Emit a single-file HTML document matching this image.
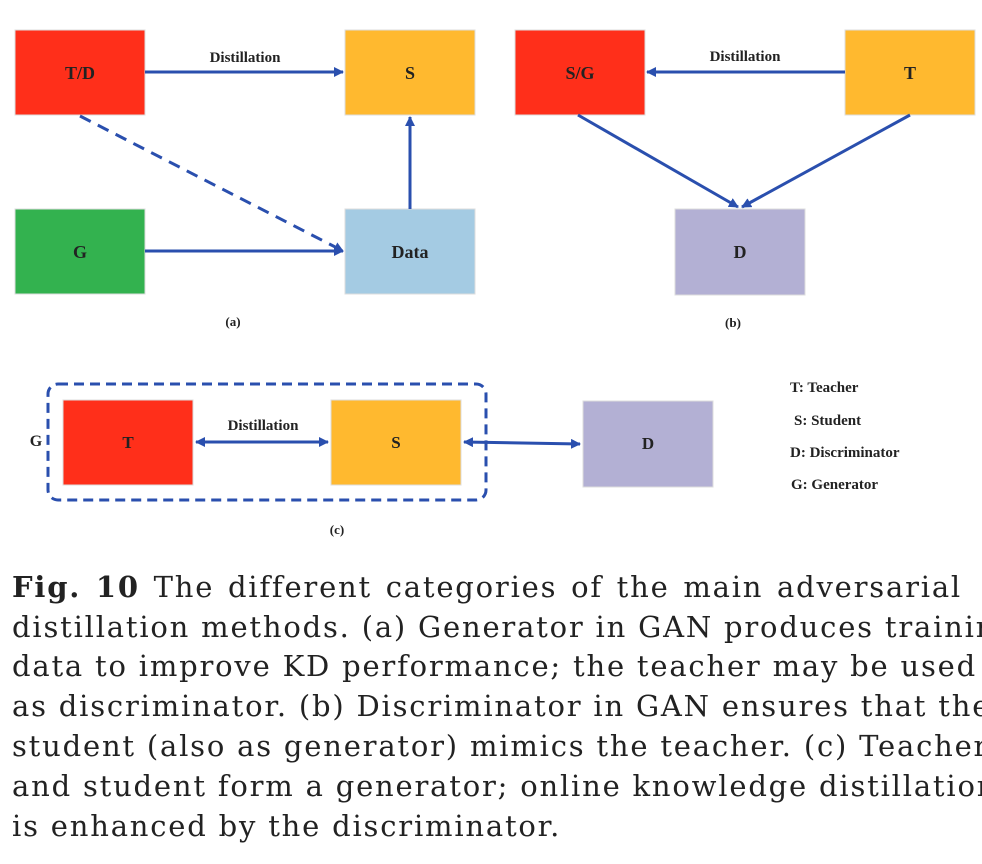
<!DOCTYPE html>
<html><head><meta charset="utf-8"><style>
body{margin:0;background:#fff;width:982px;height:864px;overflow:hidden;position:relative}
svg{position:absolute;left:0;top:0}
.cap{position:absolute;left:12px;width:950px;font-family:"DejaVu Serif","Liberation Serif",serif;font-size:29px;letter-spacing:1.8px;color:#222;line-height:40px;text-align:justify;text-align-last:justify;white-space:nowrap}
</style></head><body>
<svg width="982" height="560" viewBox="0 0 982 560">
<defs>
<marker id="ah" markerWidth="10" markerHeight="10" refX="9" refY="5" orient="auto" markerUnits="userSpaceOnUse">
<path d="M0,0 L10,5 L0,10 z" fill="#2a4fae"/></marker>
<marker id="ahs" markerWidth="10" markerHeight="10" refX="1" refY="5" orient="auto" markerUnits="userSpaceOnUse">
<path d="M10,0 L0,5 L10,10 z" fill="#2a4fae"/></marker>
</defs>
<g font-family="Liberation Serif,serif" font-weight="bold" fill="#222" text-anchor="middle">
<rect x="15" y="30" width="130" height="85" fill="#ff2f1a" stroke="#ddd"/>
<rect x="345" y="30" width="130" height="85" fill="#ffb92f" stroke="#ddd"/>
<rect x="15" y="209" width="130" height="85" fill="#33b24f" stroke="#ddd"/>
<rect x="345" y="209" width="130" height="85" fill="#a4cbe3" stroke="#ddd"/>
<text x="80" y="79" font-size="18">T/D</text>
<text x="410" y="79" font-size="18">S</text>
<text x="80" y="258" font-size="18">G</text>
<text x="410" y="258" font-size="18">Data</text>
<text x="245" y="62" font-size="15">Distillation</text>
<text x="233" y="326" font-size="13">(a)</text>
<g stroke="#2a4fae" stroke-width="3" fill="none">
<line x1="145" y1="72" x2="343" y2="72" marker-end="url(#ah)"/>
<line x1="145" y1="251" x2="343" y2="251" marker-end="url(#ah)"/>
<line x1="410" y1="209" x2="410" y2="117" marker-end="url(#ah)"/>
<line x1="80" y1="116" x2="343" y2="251" stroke-dasharray="12,8" marker-end="url(#ah)"/>
</g>
<rect x="515" y="30" width="130" height="85" fill="#ff2f1a" stroke="#ddd"/>
<rect x="845" y="30" width="130" height="85" fill="#ffb92f" stroke="#ddd"/>
<rect x="675" y="209" width="130" height="86" fill="#b3b0d4" stroke="#ddd"/>
<text x="580" y="79" font-size="18">S/G</text>
<text x="910" y="79" font-size="18">T</text>
<text x="740" y="258" font-size="18">D</text>
<text x="745" y="61" font-size="15">Distillation</text>
<text x="733" y="327" font-size="13">(b)</text>
<g stroke="#2a4fae" stroke-width="3" fill="none">
<line x1="845" y1="72" x2="647" y2="72" marker-end="url(#ah)"/>
<line x1="578" y1="115" x2="738" y2="207" marker-end="url(#ah)"/>
<line x1="910" y1="115" x2="742" y2="207" marker-end="url(#ah)"/>
</g>
<rect x="48" y="384" width="438" height="116" rx="10" fill="none" stroke="#2a4fae" stroke-width="3" stroke-dasharray="10,6"/>
<rect x="63" y="400" width="130" height="85" fill="#ff2f1a" stroke="#ddd"/>
<rect x="331" y="400" width="130" height="85" fill="#ffb92f" stroke="#ddd"/>
<rect x="583" y="401" width="130" height="86" fill="#b3b0d4" stroke="#ddd"/>
<text x="128" y="448" font-size="17">T</text>
<text x="396" y="448" font-size="17">S</text>
<text x="648" y="449" font-size="17">D</text>
<text x="36" y="446" font-size="16">G</text>
<text x="263" y="430" font-size="15">Distillation</text>
<text x="337" y="534" font-size="13">(c)</text>
<g stroke="#2a4fae" stroke-width="3" fill="none">
<line x1="196" y1="442" x2="328" y2="442" marker-start="url(#ahs)" marker-end="url(#ah)"/>
<line x1="464" y1="442" x2="580" y2="444" marker-start="url(#ahs)" marker-end="url(#ah)"/>
</g>
<g text-anchor="start" font-size="15">
<text x="790" y="392">T: Teacher</text>
<text x="794" y="425">S: Student</text>
<text x="790" y="457">D: Discriminator</text>
<text x="791" y="489">G: Generator</text>
</g>
</g>
</svg>
<div class="cap" style="top:567px"><b>Fig. 10</b> The different categories of the main adversarial</div>
<div class="cap" style="top:607px">distillation methods. (a) Generator in GAN produces training</div>
<div class="cap" style="top:646px">data to improve KD performance; the teacher may be used</div>
<div class="cap" style="top:686px">as discriminator. (b) Discriminator in GAN ensures that the</div>
<div class="cap" style="top:726px">student (also as generator) mimics the teacher. (c) Teacher</div>
<div class="cap" style="top:766px">and student form a generator; online knowledge distillation</div>
<div class="cap" style="top:806px;text-align-last:left">is enhanced by the discriminator.</div>
</body></html>
